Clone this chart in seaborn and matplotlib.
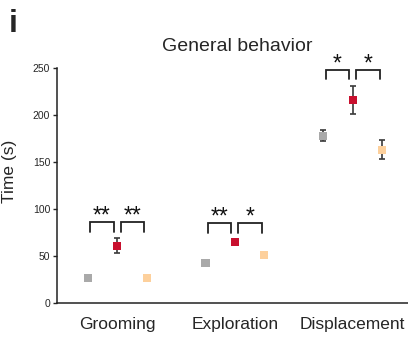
import matplotlib
matplotlib.use("Agg")
import matplotlib.pyplot as plt
import seaborn as sns
import pandas as pd

categories = ["Grooming", "Exploration", "Displacement"]
groups = ["Group 1", "Group 2", "Group 3"]
colors = ["#a9a9a9", "#c8102e", "#fdd09c"]

mean_g1 = [27, 43, 178]
mean_g2 = [61, 65, 216]
mean_g3 = [27, 51, 163]
sem_g1 = [2, 3, 6]
sem_g2 = [8, 3, 15]
sem_g3 = [2, 3, 10]

stars_left = ["**", "**", "*"]
stars_right = ["**", "*", "*"]

sns.set_style("ticks")
plt.rcParams["font.family"] = ["Liberation Sans", "DejaVu Sans"]

offsets = [-0.25, 0.0, 0.25]
means = [mean_g1, mean_g2, mean_g3]
sems = [sem_g1, sem_g2, sem_g3]

rows = []
for gi, g in enumerate(groups):
    for ci, c in enumerate(categories):
        rows.append({"x": ci + offsets[gi], "mean": means[gi][ci],
                     "sem": sems[gi][ci], "group": g, "category": c})
df = pd.DataFrame(rows)

fig = plt.figure(figsize=(4.08, 3.38), dpi=100)
ax = fig.add_axes([0.14, 0.103, 0.86, 0.696])

ax.errorbar(df["x"], df["mean"], yerr=df["sem"], fmt="none",
            ecolor="#3a3a3a", elinewidth=1.2, capsize=2.5, capthick=1.2, zorder=1)
sns.scatterplot(data=df, x="x", y="mean", hue="group", palette=colors,
                marker="s", s=34, linewidth=0, legend=False, zorder=3, ax=ax)

# significance brackets
for ci in range(len(categories)):
    sub = df[df["category"] == categories[ci]]
    top = (sub["mean"] + sub["sem"]).max() + 17
    tip = top - 10
    for (x0, x1, st) in [(ci - 0.23, ci - 0.03, stars_left[ci]),
                         (ci + 0.03, ci + 0.23, stars_right[ci])]:
        ax.plot([x0, x0, x1, x1], [tip, top, top, tip], color="#222222",
                lw=1.3, clip_on=False, solid_joinstyle="miter")
        ax.text((x0 + x1) / 2, top - 6, st, ha="center", va="bottom",
                fontsize=16.5, color="#111111")

ax.set_xlim(-0.51, 2.47)
ax.set_ylim(0, 250)
ax.set_yticks([0, 50, 100, 150, 200, 250])
ax.set_xticks(range(len(categories)))
ax.set_xticklabels(categories, fontsize=12.5)
ax.tick_params(axis="x", length=0, pad=10)
ax.tick_params(axis="y", length=3, width=1, labelsize=7.5, pad=2)
ax.set_xlabel("")
ax.set_ylabel("Time (s)", fontsize=12.5)
ax.yaxis.set_label_coords(-0.115, 0.56)
sns.despine(ax=ax)
for sp in ["left", "bottom"]:
    ax.spines[sp].set_linewidth(1.1)
    ax.spines[sp].set_color("#222222")

fig.text(0.582, 0.863, "General behavior", ha="center", va="center", fontsize=14)
fig.text(0.022, 0.93, "i", ha="left", va="center", fontsize=23, fontweight="bold")

fig.savefig("out.png", dpi=100)
